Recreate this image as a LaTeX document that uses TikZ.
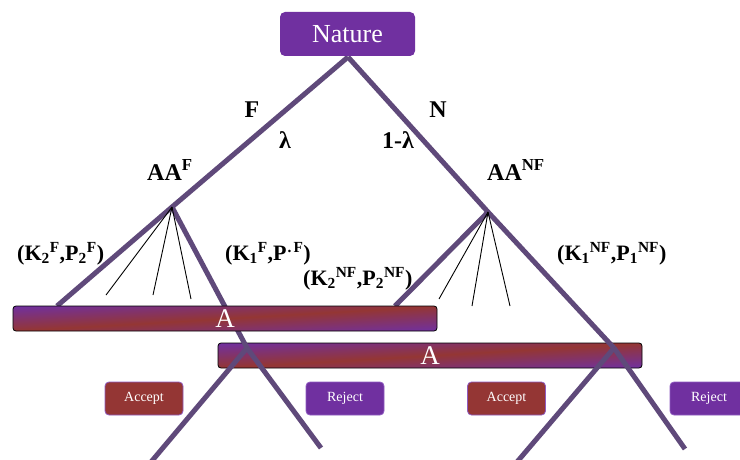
\documentclass[tikz,border=0pt]{standalone}
\usepackage{fontspec}
\setmainfont{Liberation Serif}
\definecolor{npurple}{HTML}{7030A0}
\definecolor{nred}{HTML}{943634}
\definecolor{nline}{HTML}{5F497A}
\definecolor{nborder}{HTML}{8F5BC0}
\begin{document}
\begin{tikzpicture}[x=1pt,y=-1pt,
  tree/.style={line width=5pt, draw=nline},
  twig/.style={line width=0.9pt, draw=black},
  lbl/.style={font=\fontsize{24}{24}\selectfont\bfseries, inner sep=0pt},
  klbl/.style={font=\fontsize{22}{22}\selectfont\bfseries, inner sep=0pt, anchor=base west},
  btn/.style={rounded corners=4pt, minimum width=78pt, minimum height=33pt, inner sep=0pt,
    text=white, font=\fontsize{14}{14}\selectfont, draw=nborder, line width=0.8pt},
  barframe/.style={draw=black, line width=0.8pt, rounded corners=3pt, text=white,
    font=\fontsize{27}{27}\selectfont, minimum width=424pt, minimum height=25pt, inner sep=0pt},
  barfill/.style={top color=npurple, bottom color=npurple, middle color=nred},
]
\useasboundingbox (0,0) rectangle (740,460);
% coordinates of the tree
\coordinate (root) at (348,57);
\coordinate (aaf) at (172,207);
\coordinate (aanf) at (488,212);
\coordinate (b1l) at (57,306);
\coordinate (b1r) at (395,306);
\coordinate (j1) at (247,348);
\coordinate (j2) at (614,348);
\coordinate (e1) at (151,462);
\coordinate (e2) at (321,448);
\coordinate (e3) at (517,462);
\coordinate (e4) at (685,449);
\coordinate (t1) at (106,295);
\coordinate (t2) at (153,295);
\coordinate (t3) at (191,299);
\coordinate (t4) at (439,299);
\coordinate (t5) at (472,306);
\coordinate (t6) at (510,306);
\coordinate (c1) at (225,318.5);
\coordinate (c2) at (430,355.5);

% lower bar (under the lines)
\begin{scope}
  \clip[rounded corners=3pt] (218,343) rectangle (642,368);
  \shade[barfill, transform canvas={rotate around={3.4:(c2)}}] (200,330.5) rectangle (660,380.5);
\end{scope}
\node[barframe] (bar2) at (c2) {A};

% tree lines
\draw[tree] (root) -- (aaf) -- (b1l);
\draw[tree] (aaf) -- (j1);
\draw[tree] (j1) -- (e1);
\draw[tree] (j1) -- (e2);
\draw[tree] (root) -- (aanf) -- (j2);
\draw[tree] (aanf) -- (b1r);
\draw[tree] (j2) -- (e3);
\draw[tree] (j2) -- (e4);

% thin choice lines
\draw[twig] (aaf) -- (t1);
\draw[twig] (aaf) -- (t2);
\draw[twig] (aaf) -- (t3);
\draw[twig] (aanf) -- (t4);
\draw[twig] (aanf) -- (t5);
\draw[twig] (aanf) -- (t6);

% upper bar (over the lines)
\begin{scope}
  \clip[rounded corners=3pt] (13,306) rectangle (437,331);
  \shade[barfill, transform canvas={rotate around={3.4:(c1)}}] (-5,293.5) rectangle (455,343.5);
\end{scope}
\node[barframe] (bar1) at (c1) {A};

% Nature box
\node[rounded corners=5pt, fill=npurple, text=white, minimum width=135pt, minimum height=44pt,
  inner sep=0pt, font=\fontsize{26}{26}\selectfont] (nature) at (347.5,34) {Nature};

% buttons
\node[btn, fill=nred] (acc1) at (144,398.5) {Accept};
\node[btn, fill=npurple] (rej1) at (345,398.5) {Reject};
\node[btn, fill=nred] (acc2) at (506.5,398.5) {Accept};
\node[btn, fill=npurple] (rej2) at (709,398.5) {Reject};

% labels
\node[lbl] (lF) at (252,110) {F};
\node[lbl] (llam) at (285,140) {λ};
\node[lbl] (lN) at (438,110) {N};
\node[lbl] (l1lam) at (398,140) {1-λ};
\node[lbl, anchor=base west] (laaf) at (147,180) {AA\textsuperscript{F}};
\node[lbl, anchor=base west] (laanf) at (487,180) {AA\textsuperscript{NF}};

\node[klbl] (k2f) at (17,260) {(K\textsubscript{2}\textsuperscript{F},P\textsubscript{2}\textsuperscript{F})};
\node[klbl] (k1f) at (225,260) {(K\textsubscript{1}\textsuperscript{F},P\textsuperscript{\kern1pt.\kern2pt F})};
\node[klbl] (k2nf) at (303,285) {(K\textsubscript{2}\textsuperscript{NF},P\textsubscript{2}\textsuperscript{NF})};
\node[klbl] (k1nf) at (557,260) {(K\textsubscript{1}\textsuperscript{NF},P\textsubscript{1}\textsuperscript{NF})};
\end{tikzpicture}
\end{document}
